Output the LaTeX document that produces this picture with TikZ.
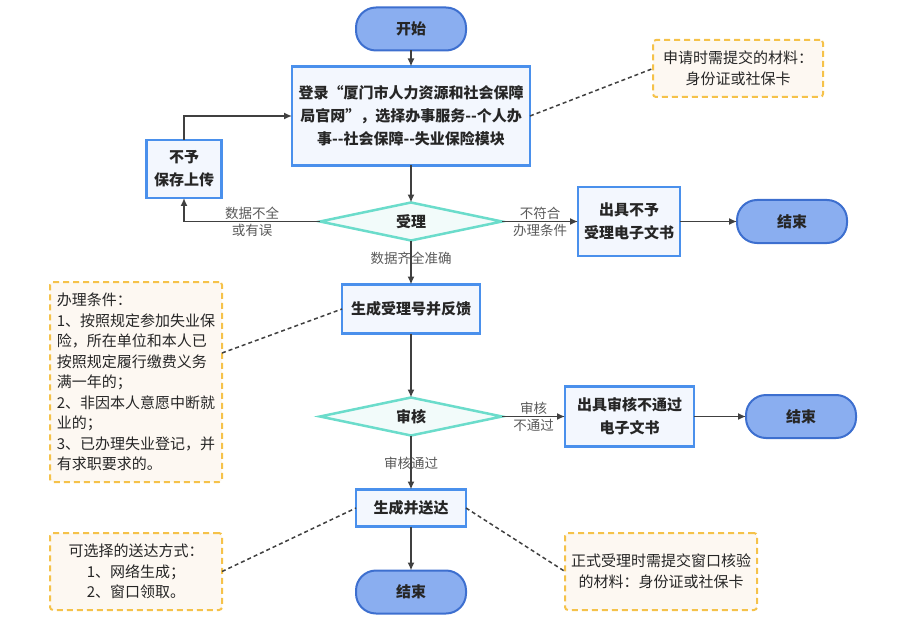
\documentclass[tikz,border=0pt]{standalone}
\usepackage{fontspec}
\setmainfont{Noto Sans CJK SC}
\usepackage{tikz}
\usetikzlibrary{positioning,arrows.meta,shapes.geometric}
\definecolor{flowPill}{HTML}{8AAEF0}
\definecolor{flowPillLine}{HTML}{3D6FCF}
\definecolor{flowBox}{HTML}{F3F7FE}
\definecolor{flowBoxLine}{HTML}{4A90EC}
\definecolor{flowDiamond}{HTML}{F2FBFA}
\definecolor{flowDiamondLine}{HTML}{6BDCCB}
\definecolor{flowNote}{HTML}{FDF8F2}
\definecolor{flowNoteLine}{HTML}{F5C24A}
\definecolor{flowText}{HTML}{262626}
\definecolor{flowLabel}{HTML}{595959}
\definecolor{flowLine}{HTML}{404040}
\tikzset{
  terminal/.style={draw=flowPillLine, line width=2pt, outer sep=0pt, fill=flowPill, rounded corners=20pt, minimum width=110pt, minimum height=43pt, font=\fontsize{15}{18}\selectfont\bfseries, text=flowText},
  process/.style={draw=flowBoxLine, line width=2.5pt, outer sep=0pt, fill=flowBox, align=center, inner sep=2pt, font=\fontsize{15}{23}\selectfont\bfseries, text=flowText},
  decision/.style={diamond, shape aspect=4.8, draw=flowDiamondLine, line width=2.5pt, outer sep=0pt, fill=flowDiamond, minimum width=182pt, minimum height=38pt, inner sep=0pt, font=\fontsize{15}{18}\selectfont\bfseries, text=flowText},
  note/.style={draw=flowNoteLine, line width=2pt, outer sep=0pt, dash pattern=on 6pt off 4pt, fill=flowNote, rounded corners=3pt, align=center, font=\fontsize{15}{20.5}\selectfont, text=flowText},
  arrow/.style={-{Latex[length=8pt,width=7pt]}, line width=1.5pt, draw=flowLine},
  noteLink/.style={dash pattern=on 4pt off 3pt, line width=1.5pt, draw=flowLine},
  edgeLabel/.style={font=\fontsize{13.5}{17}\selectfont, text=flowLabel, inner sep=1.5pt}
}

\begin{document}
\begin{tikzpicture}[x=1pt, y=-1pt, node distance=16pt]
  \useasboundingbox (0,0) rectangle (901,636);
  % main column
  \node[terminal] (start) at (411,29) {开始};
  \node[process, minimum width=238pt, minimum height=99pt, below=16pt of start] (login) {
    登录“厦门市人力资源和社会保障\\
    局官网”，选择办事服务-{}-个人办\\
    事-{}-社会保障-{}-失业保险模块
  };
  \node[decision, below=37pt of login] (accept) {受理};
  \node[process, minimum width=75pt, minimum height=58pt] (noUpload) at (184,169) {不予\\保存上传};
  \node[process, minimum width=102pt, minimum height=69pt, right=76pt of accept] (rejectDoc) {出具不予\\受理电子文书};
  \node[terminal, right=57pt of rejectDoc] (endA) {结束};
  \node[process, minimum width=138pt, minimum height=49pt, below=44pt of accept] (receipt) {生成受理号并反馈};
  \node[decision, below=64pt of receipt] (review) {审核};
  \node[process, minimum width=129pt, minimum height=60pt, right=63pt of review] (failDoc) {出具审核不通过\\电子文书};
  \node[terminal, right=52pt of failDoc] (endB) {结束};
  \node[process, minimum width=110pt, minimum height=37pt, below=54pt of review] (deliver) {生成并送达};
  \node[terminal, below=44pt of deliver] (endC) {结束};

  % notes
  \node[note, minimum width=170pt, minimum height=57pt] (docsNote) at (738,68.5) {申请时需提交的材料：\\身份证或社保卡};
  \node[note, align=left, minimum width=172pt, minimum height=200pt] (condNote) at (136,382) {
    办理条件：\\
    1、按照规定参加失业保\\
    险，所在单位和本人已\\
    按照规定履行缴费义务\\
    满一年的；\\
    2、非因本人意愿中断就\\
    业的；\\
    3、已办理失业登记，并\\
    有求职要求的。
  };
  \node[note, minimum width=172pt, minimum height=77pt] (wayNote) at (136,571.5) {可选择的送达方式：\\1、网络生成；\\2、窗口领取。};
  \node[note, minimum width=192pt, minimum height=77pt] (windowNote) at (661,571.5) {正式受理时需提交窗口核验\\的材料：身份证或社保卡};

  % connectors
  \draw[arrow] (start) -- (login);
  \draw[arrow] (login) -- (accept);
  \draw[arrow] (accept.west) -| node[pos=0.25, above, edgeLabel]{数据不全} node[pos=0.25, below, edgeLabel]{或有误} (noUpload.south);
  \draw[arrow] (noUpload.north) |- (login.west);
  \draw[arrow] (accept.east) -- node[above, edgeLabel]{不符合} node[below, edgeLabel]{办理条件} (rejectDoc.west);
  \draw[arrow] (rejectDoc) -- (endA);
  \draw[arrow] (accept.south) -- node[pos=0.4, edgeLabel]{数据齐全准确} (receipt.north);
  \draw[arrow] (receipt) -- (review);
  \draw[arrow] (review.east) -- node[above, edgeLabel]{审核} node[below, edgeLabel]{不通过} (failDoc.west);
  \draw[arrow] (failDoc) -- (endB);
  \draw[arrow] (review.south) -- node[pos=0.52, edgeLabel]{审核通过} (deliver.north);
  \draw[arrow] (deliver) -- (endC);

  % note links
  \draw[noteLink] (login.east) -- (docsNote.west);
  \draw[noteLink] ([yshift=29pt]condNote.east) -- (receipt.west);
  \draw[noteLink] (wayNote.east) -- (deliver.west);
  \draw[noteLink] (deliver.east) -- (windowNote.west);
\end{tikzpicture}
\end{document}
